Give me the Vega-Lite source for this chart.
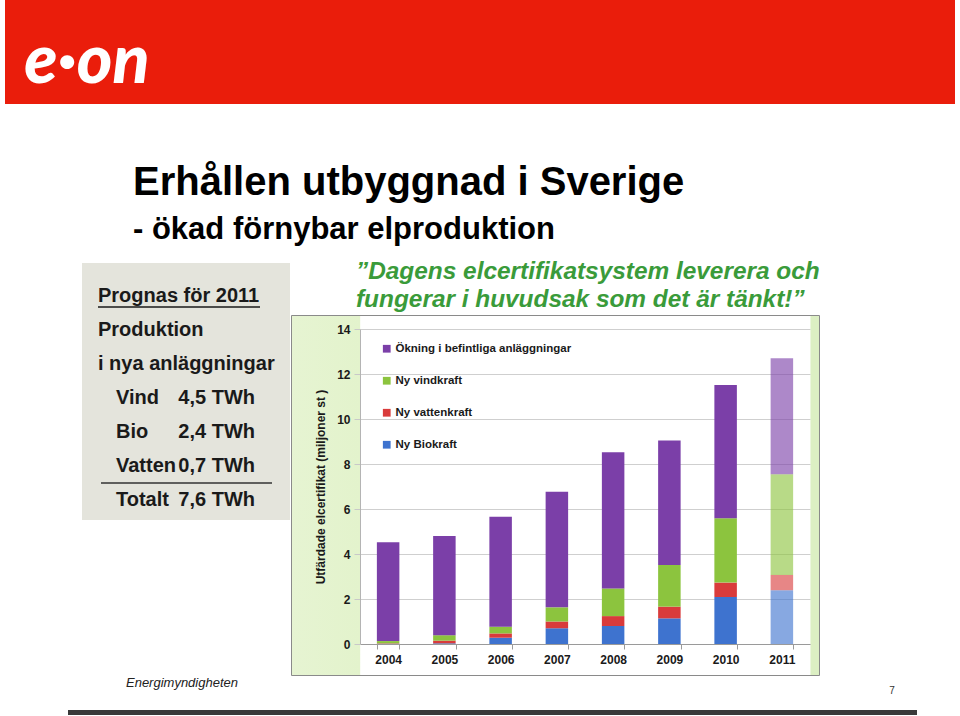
{
  "$schema": "https://vega.github.io/schema/vega-lite/v6.json",
  "background": "white",
  "padding": {"left": 5, "right": 5, "top": 0, "bottom": 0},
  "config": {
    "font": "Liberation Sans",
    "view": {"stroke": null},
    "locale": {"number": {"decimal": ",", "thousands": " ", "grouping": [3], "currency": ["", " TWh"]}}
  },
  "spacing": 59,
  "vconcat": [
    {
      "spacing": 0,
      "hconcat": [
        {
          "width": 164, "height": 104,
          "view": {"fill": "#ea1d0b", "stroke": null},
          "data": {"values": [{"logo": "e·on"}]},
          "mark": {"type": "text", "color": "white", "font": "Lato", "fontSize": 68, "fontStyle": "italic", "fontWeight": 900, "baseline": "middle", "dy": 11},
          "encoding": {"text": {"field": "logo", "type": "nominal"}}
        },
        {
          "width": 786, "height": 104,
          "view": {"fill": "#ea1d0b", "stroke": null},
          "data": {"values": []},
          "mark": "rect",
          "encoding": {}
        }
      ]
    },
    {
      "spacing": 0,
      "vconcat": [
        {
          "title": {
            "text": "Erhållen utbyggnad i Sverige",
            "subtitle": "- ökad förnybar elproduktion",
            "anchor": "start", "frame": "bounds", "dx": 128, "offset": 14,
            "font": "Liberation Sans", "fontSize": 40, "fontWeight": "bold", "color": "#000000",
            "subtitleFont": "Liberation Sans", "subtitleFontSize": 31, "subtitleFontWeight": "bold", "subtitleColor": "#000000", "subtitlePadding": 12
          },
          "spacing": 0,
          "hconcat": [
            {"width": 77, "height": 10, "view": {"fill": "white", "stroke": null}, "data": {"values": []}, "mark": "rect", "encoding": {}},
            {
              "vconcat": [
                {
                  "width": 208, "height": 257,
                  "view": {"fill": "#e4e4dc", "stroke": null},
                  "layer": [
                    {
                      "data": {"values": [{"rad": "Prognas för 2011"}, {"rad": "Produktion"}, {"rad": "i nya anläggningar"}]},
                      "mark": {"type": "text", "align": "left", "baseline": "middle", "fontSize": 20, "fontWeight": "bold", "color": "#1a1a1a", "dx": -18},
                      "encoding": {
                        "y": {"field": "rad", "type": "nominal", "scale": {"type": "point", "padding": 0, "domain": ["Prognas för 2011", "Produktion", "i nya anläggningar", "Vind", "Bio", "Vatten", "Totalt"], "range": [33, 237]}, "axis": null},
                        "x": {"datum": "etikett", "type": "nominal", "scale": {"type": "point", "padding": 0, "domain": ["etikett", "värde"], "range": [34, 173]}, "axis": null},
                        "text": {"field": "rad", "type": "nominal"}
                      }
                    },
                    {
                      "data": {"values": [{"rad": "Prognas för 2011"}]},
                      "mark": {"type": "rule", "color": "#1a1a1a", "strokeWidth": 1.5, "yOffset": 11, "xOffset": -18, "x2Offset": 5},
                      "encoding": {
                        "y": {"field": "rad", "type": "nominal"},
                        "x": {"datum": "etikett", "type": "nominal"},
                        "x2": {"datum": "värde"}
                      }
                    },
                    {
                      "data": {"values": [
                        {"rad": "Vind", "twh": 4.5},
                        {"rad": "Bio", "twh": 2.4},
                        {"rad": "Vatten", "twh": 0.7},
                        {"rad": "Totalt", "twh": 7.6}
                      ]},
                      "layer": [
                        {
                          "mark": {"type": "text", "align": "left", "baseline": "middle", "fontSize": 20, "fontWeight": "bold", "color": "#1a1a1a"},
                          "encoding": {
                            "y": {"field": "rad", "type": "nominal"},
                            "x": {"datum": "etikett", "type": "nominal"},
                            "text": {"field": "rad", "type": "nominal"}
                          }
                        },
                        {
                          "mark": {"type": "text", "align": "right", "baseline": "middle", "fontSize": 20, "fontWeight": "bold", "color": "#1a1a1a"},
                          "encoding": {
                            "y": {"field": "rad", "type": "nominal"},
                            "x": {"datum": "värde", "type": "nominal"},
                            "text": {"field": "twh", "type": "quantitative", "format": "$.1f"}
                          }
                        },
                        {
                          "transform": [{"filter": "datum.rad === 'Totalt'"}],
                          "mark": {"type": "rule", "color": "#333333", "strokeWidth": 1.5, "yOffset": -17, "xOffset": -15, "x2Offset": 17},
                          "encoding": {
                            "y": {"field": "rad", "type": "nominal"},
                            "x": {"datum": "etikett", "type": "nominal"},
                            "x2": {"datum": "värde"}
                          }
                        }
                      ]
                    }
                  ]
                }
              ]
            },
            {
              "spacing": 2,
              "vconcat": [
                {
                  "width": 528, "height": 1,
                  "view": {"fill": null, "stroke": null},
                  "data": {"values": []},
                  "mark": "rect",
                  "encoding": {},
                  "title": {
                    "text": ["”Dagens elcertifikatsystem leverera och", "fungerar i huvudsak som det är tänkt!”"],
                    "orient": "bottom", "anchor": "start", "frame": "group", "dx": 65, "offset": -4, "baseline": "top",
                    "font": "Liberation Sans", "fontSize": 24.4, "fontStyle": "italic", "fontWeight": "bold", "color": "#3a9b3a", "lineHeight": 28
                  }
                },
                {
                  "width": 528, "height": 360,
                  "view": {
                    "fill": {"gradient": "linear", "x1": 0, "y1": 0, "x2": 1, "y2": 0, "stops": [
                      {"offset": 0, "color": "#e6f4d2"},
                      {"offset": 0.1306, "color": "#e3f3cc"},
                      {"offset": 0.1307, "color": "#ffffff"},
                      {"offset": 0.9829, "color": "#ffffff"},
                      {"offset": 0.983, "color": "#dcefc3"},
                      {"offset": 1, "color": "#dcefc3"}
                    ]},
                    "stroke": "#8a8a8a", "strokeWidth": 1
                  },
                  "data": {"values": [
                    {"år": "2004", "typ": "Ny Biokraft", "miljoner": 0.01, "status": "Utfall"},
                    {"år": "2004", "typ": "Ny vattenkraft", "miljoner": 0.02, "status": "Utfall"},
                    {"år": "2004", "typ": "Ny vindkraft", "miljoner": 0.10, "status": "Utfall"},
                    {"år": "2004", "typ": "Ökning i befintliga anläggningar", "miljoner": 4.39, "status": "Utfall"},
                    {"år": "2005", "typ": "Ny Biokraft", "miljoner": 0.03, "status": "Utfall"},
                    {"år": "2005", "typ": "Ny vattenkraft", "miljoner": 0.12, "status": "Utfall"},
                    {"år": "2005", "typ": "Ny vindkraft", "miljoner": 0.24, "status": "Utfall"},
                    {"år": "2005", "typ": "Ökning i befintliga anläggningar", "miljoner": 4.41, "status": "Utfall"},
                    {"år": "2006", "typ": "Ny Biokraft", "miljoner": 0.28, "status": "Utfall"},
                    {"år": "2006", "typ": "Ny vattenkraft", "miljoner": 0.19, "status": "Utfall"},
                    {"år": "2006", "typ": "Ny vindkraft", "miljoner": 0.30, "status": "Utfall"},
                    {"år": "2006", "typ": "Ökning i befintliga anläggningar", "miljoner": 4.89, "status": "Utfall"},
                    {"år": "2007", "typ": "Ny Biokraft", "miljoner": 0.70, "status": "Utfall"},
                    {"år": "2007", "typ": "Ny vattenkraft", "miljoner": 0.30, "status": "Utfall"},
                    {"år": "2007", "typ": "Ny vindkraft", "miljoner": 0.63, "status": "Utfall"},
                    {"år": "2007", "typ": "Ökning i befintliga anläggningar", "miljoner": 5.14, "status": "Utfall"},
                    {"år": "2008", "typ": "Ny Biokraft", "miljoner": 0.80, "status": "Utfall"},
                    {"år": "2008", "typ": "Ny vattenkraft", "miljoner": 0.44, "status": "Utfall"},
                    {"år": "2008", "typ": "Ny vindkraft", "miljoner": 1.23, "status": "Utfall"},
                    {"år": "2008", "typ": "Ökning i befintliga anläggningar", "miljoner": 6.05, "status": "Utfall"},
                    {"år": "2009", "typ": "Ny Biokraft", "miljoner": 1.14, "status": "Utfall"},
                    {"år": "2009", "typ": "Ny vattenkraft", "miljoner": 0.52, "status": "Utfall"},
                    {"år": "2009", "typ": "Ny vindkraft", "miljoner": 1.85, "status": "Utfall"},
                    {"år": "2009", "typ": "Ökning i befintliga anläggningar", "miljoner": 5.53, "status": "Utfall"},
                    {"år": "2010", "typ": "Ny Biokraft", "miljoner": 2.09, "status": "Utfall"},
                    {"år": "2010", "typ": "Ny vattenkraft", "miljoner": 0.64, "status": "Utfall"},
                    {"år": "2010", "typ": "Ny vindkraft", "miljoner": 2.86, "status": "Utfall"},
                    {"år": "2010", "typ": "Ökning i befintliga anläggningar", "miljoner": 5.92, "status": "Utfall"},
                    {"år": "2011", "typ": "Ny Biokraft", "miljoner": 2.39, "status": "Prognos"},
                    {"år": "2011", "typ": "Ny vattenkraft", "miljoner": 0.68, "status": "Prognos"},
                    {"år": "2011", "typ": "Ny vindkraft", "miljoner": 4.47, "status": "Prognos"},
                    {"år": "2011", "typ": "Ökning i befintliga anläggningar", "miljoner": 5.16, "status": "Prognos"}
                  ]},
                  "mark": {"type": "bar"},
                  "encoding": {
                    "x": {
                      "field": "år", "type": "ordinal",
                      "scale": {"range": [69, 519], "paddingInner": 0.6, "paddingOuter": 0.3},
                      "axis": {"offset": -31, "title": null, "labelAngle": 0, "labelFontSize": 12, "labelFontWeight": "bold", "labelColor": "#1a1a1a", "labelPadding": 5, "tickBand": "extent", "tickSize": 5, "tickColor": "#9a9a9a", "domainColor": "#9a9a9a"}
                    },
                    "y": {
                      "field": "miljoner", "type": "quantitative", "stack": "zero",
                      "scale": {"domain": [0, 14], "range": [329, 14], "nice": false},
                      "axis": {"offset": -69, "values": [0, 2, 4, 6, 8, 10, 12, 14], "title": "Utfärdade elcertifikat (miljoner st )", "titleFontSize": 12, "titleFontWeight": "bold", "titleColor": "#1a1a1a", "titlePadding": 9, "labelFontSize": 12, "labelFontWeight": "bold", "labelColor": "#1a1a1a", "labelPadding": 4, "tickSize": 6, "tickColor": "#c8c8c8", "domainColor": "#b4b4b4", "grid": true, "gridColor": "#cfcfcf"}
                    },
                    "color": {
                      "field": "typ", "type": "nominal",
                      "scale": {"domain": ["Ökning i befintliga anläggningar", "Ny vindkraft", "Ny vattenkraft", "Ny Biokraft"], "range": ["#7b3fa8", "#8cc43e", "#d93b3b", "#3e73cf"]},
                      "legend": {"orient": "none", "legendX": 376, "legendY": 343, "title": null, "symbolType": "square", "symbolSize": 60, "symbolStrokeWidth": 0, "labelFontSize": 11.5, "labelFontWeight": "bold", "labelColor": "#1a1a1a", "labelLimit": 0, "rowPadding": 19, "labelOffset": 3}
                    },
                    "order": {"field": "typ", "type": "ordinal", "sort": "ascending"},
                    "opacity": {"field": "status", "type": "nominal", "scale": {"domain": ["Utfall", "Prognos"], "range": [1, 0.62]}, "legend": null}
                  }
                }
              ]
            }
          ]
        },
        {
          "spacing": 14,
          "vconcat": [
            {
              "spacing": 0,
              "hconcat": [
                {"width": 120, "height": 13, "view": {"fill": "white", "stroke": null}, "data": {"values": []}, "mark": "rect", "encoding": {}},
                {
                  "width": 112, "height": 13,
                  "view": {"fill": "white", "stroke": null},
                  "data": {"values": [{"namn": "Energimyndigheten"}]},
                  "mark": {"type": "text", "fontSize": 13, "fontStyle": "italic", "color": "#222222", "baseline": "middle"},
                  "encoding": {"text": {"field": "namn", "type": "nominal"}}
                },
                {"width": 640, "height": 13, "view": {"fill": "white", "stroke": null}, "data": {"values": []}, "mark": "rect", "encoding": {}},
                {
                  "width": 26, "height": 13,
                  "view": {"fill": "white", "stroke": null},
                  "data": {"values": [{"sida": "7"}]},
                  "mark": {"type": "text", "fontSize": 10, "color": "#333333", "baseline": "middle", "dy": 8},
                  "encoding": {"text": {"field": "sida", "type": "nominal"}}
                }
              ]
            },
            {
              "spacing": 0,
              "hconcat": [
                {"width": 63, "height": 5, "view": {"fill": "white", "stroke": null}, "data": {"values": []}, "mark": "rect", "encoding": {}},
                {"width": 849, "height": 5, "view": {"fill": "#3a3a3a", "stroke": null}, "data": {"values": []}, "mark": "rect", "encoding": {}}
              ]
            }
          ]
        }
      ]
    }
  ]
}
